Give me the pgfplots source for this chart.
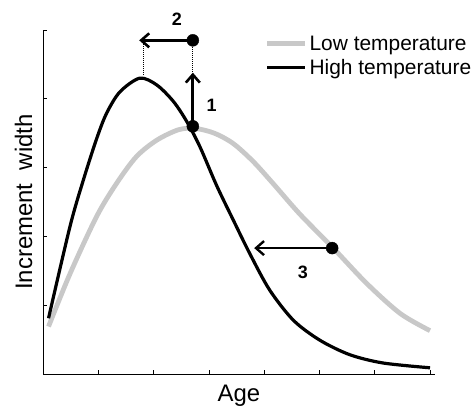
\documentclass[border=0pt]{standalone}
\usepackage{pgfplots}
\pgfplotsset{compat=1.18}
\usepackage{fontspec}
\setmainfont{Liberation Sans}
\usetikzlibrary{arrows.meta}

\definecolor{lowgray}{RGB}{200,200,200}

\begin{document}
\begin{tikzpicture}
\begin{axis}[
    name=ax,
    scale only axis,
    width=392bp, height=344bp,
    xmin=0, xmax=7.09,
    ymin=0, ymax=5,
    axis lines=left,
    axis line style={-, line width=0.8bp},
    xtick={0,...,7}, ytick={0,...,5},
    xticklabels={}, yticklabels={},
    tick align=inside,
    major tick length=3.5bp,
    tick style={black, line width=0.7bp},
    clip=false,
    xlabel={Age},
    ylabel={Increment\ \ width},
    xlabel style={font=\fontsize{24}{28}\selectfont, at={(axis description cs:0.5,-0.081)}, anchor=base},
    ylabel style={font=\fontsize{24}{28}\selectfont, at={(axis description cs:-0.028,0.5)}, anchor=base},
    legend style={at={(1.098,0.99)}, anchor=north east, draw=none, fill=none,
        inner sep=0pt, font=\fontsize{21}{25}\selectfont,
        row sep=4bp, cells={anchor=west}},
    legend image code/.code={\draw[#1] (0bp,0bp) -- (38bp,0bp);},
]
% low temperature
\addplot[lowgray, line width=4.8bp, smooth] coordinates {
(0.10,0.69) (0.49,1.46) (0.97,2.29) (1.33,2.77) (1.69,3.16) (2.06,3.40)
(2.45,3.55) (2.75,3.57) (3.10,3.50) (3.44,3.35) (3.80,3.09) (4.16,2.77)
(4.65,2.32) (5.25,1.83) (5.85,1.32) (6.46,0.88) (7.00,0.63)};
\addlegendentry{Low temperature}
% high temperature
\addplot[black, line width=3.2bp, smooth] coordinates {
(0.10,0.81) (0.49,2.15) (0.73,2.82) (0.97,3.42) (1.15,3.79) (1.39,4.10)
(1.75,4.30) (2.06,4.20) (2.36,3.96) (2.60,3.67) (2.84,3.30) (3.14,2.74)
(3.44,2.24) (3.74,1.75) (4.10,1.22) (4.53,0.78) (5.01,0.49) (5.55,0.28)
(6.15,0.16) (7.00,0.09)};
\addlegendentry{High temperature}

% annotations
\addplot[forget plot, black, line width=1bp, densely dotted] coordinates {(2.71,4.39) (2.71,4.85)};
\addplot[forget plot, black, line width=1bp, densely dotted] coordinates {(1.82,4.82) (1.82,4.33)};
\addplot[forget plot, black, line width=3.2bp, -{Straight Barb[length=8bp,width=14bp,line width=2.6bp]}]
    coordinates {(2.71,3.60) (2.71,4.38)};
\addplot[forget plot, black, line width=3.2bp, -{Straight Barb[length=8bp,width=14bp,line width=2.6bp]}]
    coordinates {(2.71,4.85) (1.74,4.85)};
\addplot[forget plot, black, line width=2.6bp, -{Straight Barb[length=8bp,width=14bp,line width=2.4bp]}]
    coordinates {(5.23,1.83) (3.82,1.83)};
\addplot[forget plot, only marks, mark=*, mark size=6bp, black] coordinates {(2.71,3.60) (2.71,4.85) (5.23,1.83)};

\node[font=\fontsize{18}{21}\selectfont\bfseries] at (axis cs:2.42,5.16) {2};
\node[font=\fontsize{18}{21}\selectfont\bfseries] at (axis cs:3.05,3.91) {1};
\node[font=\fontsize{18}{21}\selectfont\bfseries] at (axis cs:4.70,1.48) {3};
\end{axis}
\pgfresetboundingbox
\path (ax.south west) ++(-43bp,-33bp) rectangle ++(474bp,407bp);
\end{tikzpicture}
\end{document}
